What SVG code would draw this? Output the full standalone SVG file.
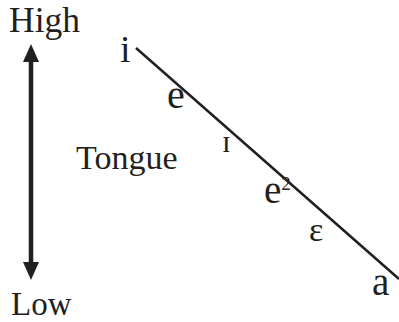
<svg xmlns="http://www.w3.org/2000/svg" width="399" height="322" viewBox="0 0 399 322">
<style>
text{fill:#231f20}
</style>
<rect width="399" height="322" fill="#fff"/>
<g id="connectors">
<line id="arrow" x1="31" y1="62" x2="31" y2="263" stroke="#231f20" stroke-width="4.5"/>
<path d="M31,44 L23,62 L39,62 Z" fill="#231f20"/>
<path d="M31,280 L23,262 L39,262 Z" fill="#231f20"/>
<line id="vowel-line" x1="136" y1="48" x2="399" y2="279" stroke="#231f20" stroke-width="2.5"/>
</g>
<g font-family="Liberation Serif, Times New Roman, Times, serif">
<g id="high"><text x="9" y="32" font-size="35.5">High</text></g>
<g id="low"><text x="11" y="315" font-size="33">Low</text></g>
<g id="tongue"><text x="76" y="169" font-size="34">Tongue</text></g>
<g id="v-i"><text x="120" y="62" font-size="38">i</text></g>
<g id="v-e"><text x="167" y="108" font-size="40">e</text></g>
<g id="v-I"><text x="222" y="152" font-size="31">ɪ</text></g>
<g id="v-e2"><text x="264" y="203" font-size="39">e<tspan font-size="19" dy="-13">2</tspan></text></g>
<g id="v-eps"><text x="309" y="241" font-size="34">ɛ</text></g>
<g id="v-a"><text x="372" y="295" font-size="39">a</text></g>
</g>
</svg>
